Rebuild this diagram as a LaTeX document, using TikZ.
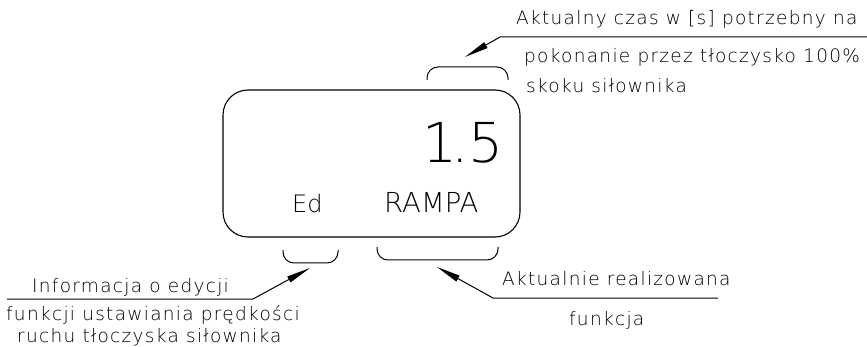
\documentclass[tikz,border=0pt]{standalone}
\usepackage{xcolor}
\usepackage{amsmath}
\usepackage{fontspec}
\usepackage{tikz}
\usetikzlibrary{arrows.meta}
\newfontfamily\cadfont[LetterSpace=7]{DejaVu Sans ExtraLight}
\newfontfamily\cadbig{DejaVu Sans ExtraLight}
\tikzset{
  leader/.style={line width=1pt, -{Triangle[length=24pt,width=6.5pt]}},
  bracket/.style={line width=1pt, rounded corners=11pt},
  note/.style={inner sep=0pt, anchor=base west, font=\fontsize{18.5}{22}\cadfont}
}
\begin{document}
\begin{tikzpicture}[x=1pt,y=1pt,yscale=-1,xscale=1]
\useasboundingbox (0,0) rectangle (867,347);

%Shape: Rounded Rectangle [id:lcd]
\node (lcd) [draw, line width=1.1pt, rounded corners=25pt, minimum width=297pt, minimum height=147pt, inner sep=0pt] at (371.5,163.5) {};

% Text Node
\draw (504,163) node (val) [anchor=base east][inner sep=0pt] {\fontsize{55}{60}\cadbig 1\kern-6pt.5};
% Text Node
\draw (292,213) node (ed) [anchor=base west][inner sep=0pt] {\fontsize{24}{28}\cadbig Ed};
% Text Node
\draw (384,213) node (mode) [anchor=base west][inner sep=0pt] {\fontsize{27.5}{30}\cadbig RAMPA};

%Shape: Brackets
\draw [bracket] (427,80) -- (427,67) -- (508,67) -- (508,80);
\draw [bracket] (283,250) -- (283,263) -- (338,263) -- (338,250);
\draw [bracket] (377,247) -- (377,260) -- (498,260) -- (498,247);

% Text Node
\draw (516,25) node (timeA) [note] {Aktualny czas w [s] potrzebny na};
% Text Node
\draw (524,63) node (timeB) [note] {pokonanie przez tłoczysko 100\%};
% Text Node
\draw (526,93) node (timeC) [note] {skoku siłownika};
% Text Node
\draw (32,292) node (editA) [note] {Informacja o edycji};
% Text Node
\draw (6,320) node (editB) [note] {funkcji ustawiania prędkości};
% Text Node
\draw (17,342) node (editC) [note] {ruchu tłoczyska siłownika};
% Text Node
\draw (502,285) node (funcA) [note] {Aktualnie realizowana};
% Text Node
\draw (569,325) node (funcB) [note] {funkcja};

%Leaders
\coordinate (timeEnd) at (867,37);
\coordinate (timeKnee) at (500,37);
\coordinate (timeTip) at (465,57);
\draw [leader] (timeEnd) -- (timeKnee) -- (timeTip);

\coordinate (editEnd) at (7,299);
\coordinate (editKnee) at (253,299);
\coordinate (editTip) at (310,268);
\draw [leader] (editEnd) -- (editKnee) -- (editTip);

\coordinate (funcEnd) at (718,298);
\coordinate (funcKnee) at (493,298);
\coordinate (funcTip) at (437,267);
\draw [leader] (funcEnd) -- (funcKnee) -- (funcTip);

\end{tikzpicture}
\end{document}
